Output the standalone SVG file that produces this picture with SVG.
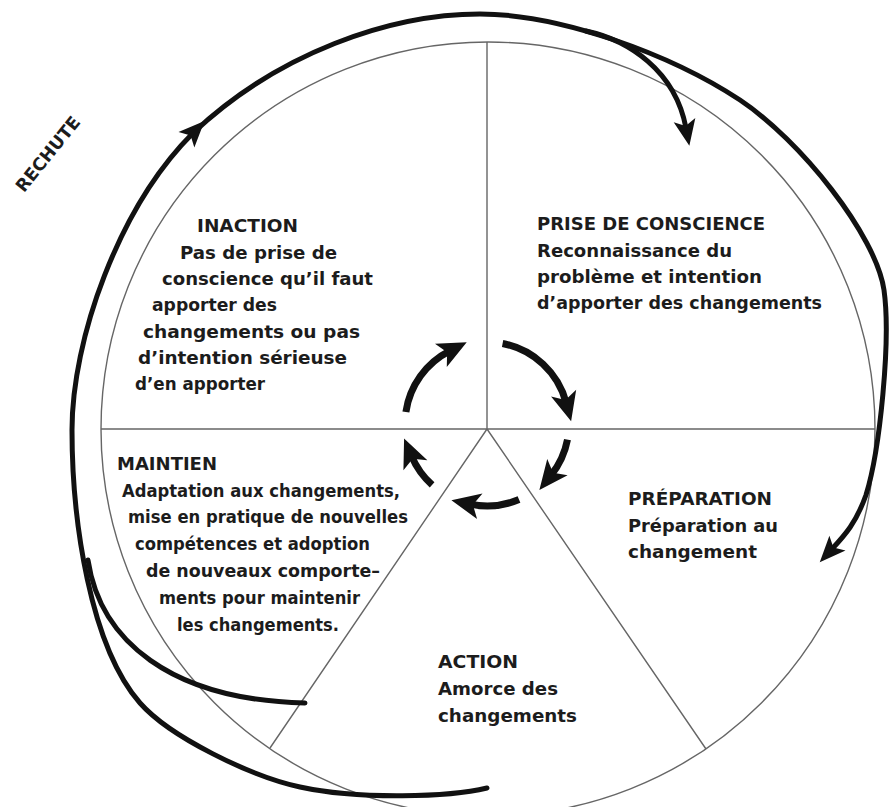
<svg xmlns="http://www.w3.org/2000/svg" width="890" height="807" viewBox="0 0 890 807">
<style>
.thin{fill:none;stroke:#666;stroke-width:1.4}
.thick{fill:none;stroke:#111;stroke-width:5;stroke-linecap:round}
.cyc{fill:none;stroke:#111;stroke-width:7;stroke-linecap:butt}
.t{font-family:"DejaVu Sans","Liberation Sans",sans-serif;font-size:17.5px;font-weight:bold;fill:#1c1c1c}
</style>
<defs>
<marker id="ah" markerUnits="userSpaceOnUse" viewBox="-10 -14 32 28" refX="0" refY="0" markerWidth="32" markerHeight="28" orient="auto" overflow="visible">
<path d="M-8,-11 L18,0 L-8,11 L-2,0 Z" fill="#111"/>
</marker>
<marker id="ahc" markerUnits="userSpaceOnUse" viewBox="-12 -15 34 30" refX="0" refY="0" markerWidth="34" markerHeight="30" orient="auto" overflow="visible">
<path d="M-10,-13 L19,0 L-10,13 L-3,0 Z" fill="#111"/>
</marker>
<path id="ahs" d="M-8,-11 L18,0 L-8,11 L-2,0 Z" fill="#111"/>
</defs>
<rect width="890" height="807" fill="#fff"/>
<g id="wheel">
<circle class="thin" cx="488" cy="429" r="387"/>
<path class="thin" d="M487,429 V42 M101,429 H875 M487,429 L270,748 M487,429 L706,749"/>
</g>
<g id="connectors">
<path class="thick" d="M487,788 C450,797 360,800 300,787 C250,776 170,737 140,703 C90,646 72,520 72,430 C72,340 118,208 193,133 C278,53 390,14 480,14 C560,14 670,54 740,100 C800,140 876,235 884,290 C891,340 880,450 866,495 C856,523 845,535 832,549" marker-end="url(#ah)"/>
<use href="#ahs" transform="translate(192,134) rotate(-46)"/>
<path class="thick" d="M586,31 C628,40 675,70 686,128" marker-end="url(#ah)"/>
<path class="thick" d="M88,560 C100,640 170,700 305,703"/>
<path class="cyc" d="M405.9,411.9 A82,82 0 0 1 449.8,350.9" marker-end="url(#ahc)"/>
<path class="cyc" d="M502.6,343.5 A82,82 0 0 1 566.2,402.8" marker-end="url(#ahc)"/>
<path class="cyc" d="M567.5,439.6 A82,82 0 0 1 551.2,475.0" marker-end="url(#ahc)"/>
<path class="cyc" d="M519.0,499.5 A82,82 0 0 1 470.0,504.2" marker-end="url(#ahc)"/>
<path class="cyc" d="M432.1,484.9 A82,82 0 0 1 411.5,456.0" marker-end="url(#ahc)"/>
</g>
<g id="rechute">
<text class="t" font-size="16" text-anchor="middle" transform="translate(48,154) rotate(-51)" y="6">RECHUTE</text>
</g>
<g id="inaction">
<text class="t" x="197" y="232" textLength="101" lengthAdjust="spacingAndGlyphs">INACTION</text>
<text class="t" x="180" y="259" textLength="157" lengthAdjust="spacingAndGlyphs">Pas de prise de</text>
<text class="t" x="162" y="285" textLength="211" lengthAdjust="spacingAndGlyphs">conscience qu’il faut</text>
<text class="t" x="152" y="311" textLength="125" lengthAdjust="spacingAndGlyphs">apporter des</text>
<text class="t" x="143" y="338" textLength="217" lengthAdjust="spacingAndGlyphs">changements ou pas</text>
<text class="t" x="138" y="364" textLength="209" lengthAdjust="spacingAndGlyphs">d’intention sérieuse</text>
<text class="t" x="135" y="390" textLength="130" lengthAdjust="spacingAndGlyphs">d’en apporter</text>
</g>
<g id="prise-de-conscience">
<text class="t" x="537" y="230" textLength="228" lengthAdjust="spacingAndGlyphs">PRISE DE CONSCIENCE</text>
<text class="t" x="537" y="257" textLength="195" lengthAdjust="spacingAndGlyphs">Reconnaissance du</text>
<text class="t" x="537" y="283" textLength="225" lengthAdjust="spacingAndGlyphs">problème et intention</text>
<text class="t" x="537" y="309" textLength="285" lengthAdjust="spacingAndGlyphs">d’apporter des changements</text>
</g>
<g id="preparation">
<text class="t" x="628" y="505" textLength="144" lengthAdjust="spacingAndGlyphs">PRÉPARATION</text>
<text class="t" x="628" y="532" textLength="150" lengthAdjust="spacingAndGlyphs">Préparation au</text>
<text class="t" x="628" y="558" textLength="129" lengthAdjust="spacingAndGlyphs">changement</text>
</g>
<g id="action">
<text class="t" x="438" y="668" textLength="80" lengthAdjust="spacingAndGlyphs">ACTION</text>
<text class="t" x="438" y="695" textLength="120" lengthAdjust="spacingAndGlyphs">Amorce des</text>
<text class="t" x="438" y="722" textLength="139" lengthAdjust="spacingAndGlyphs">changements</text>
</g>
<g id="maintien">
<text class="t" x="117" y="470" textLength="100" lengthAdjust="spacingAndGlyphs">MAINTIEN</text>
<text class="t" x="122" y="497" textLength="278" lengthAdjust="spacingAndGlyphs">Adaptation aux changements,</text>
<text class="t" x="128" y="523" textLength="280" lengthAdjust="spacingAndGlyphs">mise en pratique de nouvelles</text>
<text class="t" x="135" y="550" textLength="235" lengthAdjust="spacingAndGlyphs">compétences et adoption</text>
<text class="t" x="146" y="577" textLength="234" lengthAdjust="spacingAndGlyphs">de nouveaux comporte–</text>
<text class="t" x="159" y="604" textLength="201" lengthAdjust="spacingAndGlyphs">ments pour maintenir</text>
<text class="t" x="177" y="631" textLength="162" lengthAdjust="spacingAndGlyphs">les changements.</text>
</g>
</svg>
